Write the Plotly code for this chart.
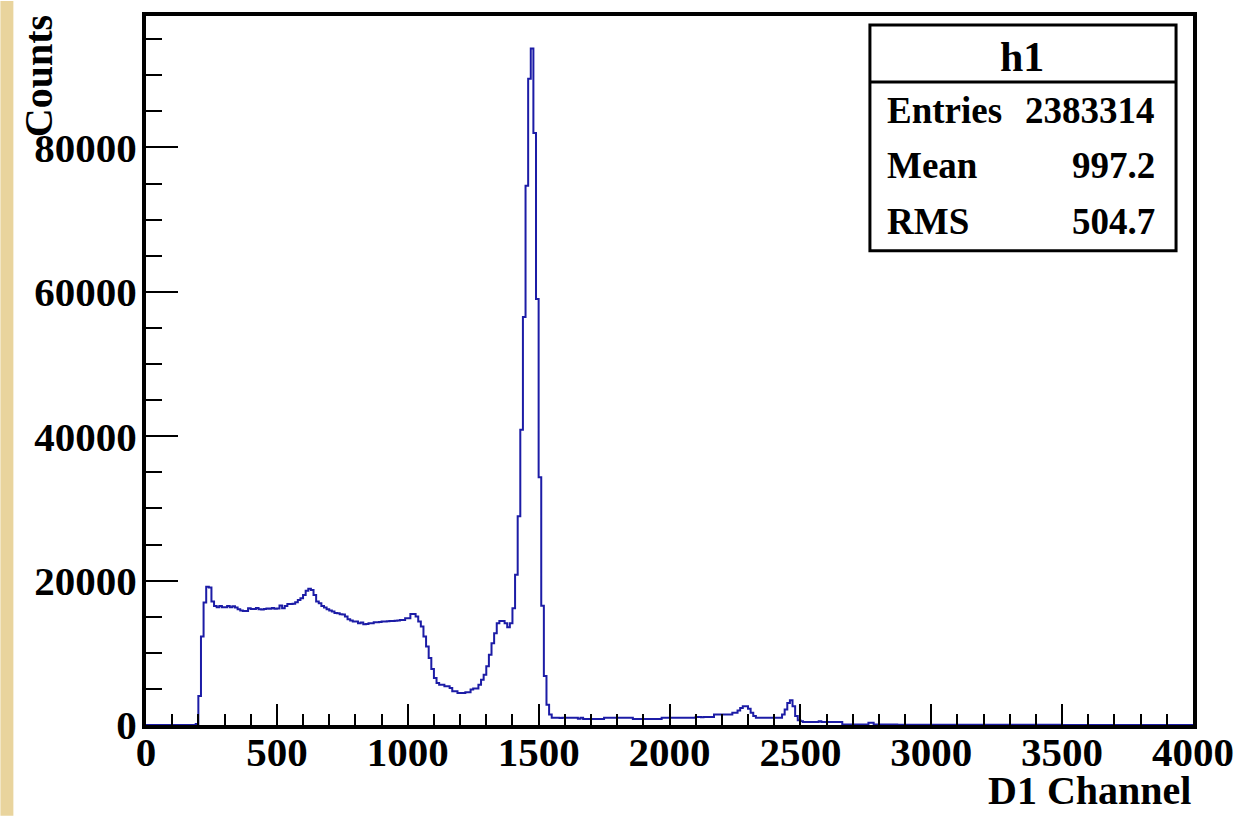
import plotly.graph_objects as go

# ---------------- data (bin width 10 channels, 0..4000) ----------------
bin_width = 10
x_start = 0

counts_0_500 = [
    0, 0, 0, 0, 0, 0, 0, 0, 0, 0,
    0, 0, 0, 0, 0, 0, 0, 0, 0, 150,
    4000, 12260, 16950, 19150, 19060, 17090, 16490, 16300, 16490, 16300,
    16300, 16490, 16300, 16440, 16260, 16030, 15860, 15800, 15800, 16170,
    16080, 16050, 16210, 16030, 16000, 16050, 16120, 16100, 16200, 16100,
]
counts_500_1000 = [
    16150, 16540, 16170, 16490, 16770, 16770, 16800, 17000, 17320, 17550,
    18010, 18600, 18880, 18700, 18010, 17090, 16860, 16490, 16260, 16030,
    15850, 15710, 15500, 15480, 15340, 15300, 15020, 14650, 14470, 14330,
    14330, 14100, 14190, 13960, 13980, 14100, 14100, 14240, 14240, 14260,
    14330, 14330, 14380, 14420, 14420, 14450, 14470, 14560, 14560, 14790,
]
counts_1000_1500 = [
    14790, 15390, 15390, 15020, 14330, 13640, 12260, 10880, 9270, 7750,
    6510, 5820, 5590, 5590, 5360, 5360, 5130, 4670, 4670, 4440,
    4440, 4440, 4540, 4540, 4900, 5040, 5040, 5590, 6280, 6970,
    8120, 9730, 11340, 12720, 14100, 14420, 14420, 14100, 13550, 14100,
    16170, 20800, 28900, 40900, 56500, 74700, 89500, 93700, 82000, 59000,
]
counts_1500_2000 = [
    34300, 16500, 6800, 2800, 1450, 1000, 1000, 1000, 980, 1000,
    1000, 1000, 1000, 1000, 1000, 850, 1000, 820, 820, 820,
    840, 820, 820, 830, 820, 1000, 1000, 1000, 1010, 1000,
    1000, 1000, 1000, 990, 1000, 1000, 820, 820, 830, 820,
    820, 820, 820, 830, 820, 820, 820, 1000, 1000, 1000,
]
counts_2000_2500 = [
    1000, 1000, 1010, 1000, 1000, 990, 1000, 1000, 1010, 1000,
    1100, 1100, 1090, 1100, 1110, 1100, 1100, 1450, 1450, 1440,
    1450, 1460, 1450, 1450, 1680, 1680, 2000, 2370, 2600, 2600,
    2240, 1680, 1230, 1000, 1000, 1000, 990, 1000, 1000, 1000,
    1010, 1000, 1000, 1450, 2150, 3060, 3430, 2600, 1230, 670,
]
counts_2500_3000 = [
    535, 400, 400, 400, 400, 400, 400, 535, 400, 400,
    400, 400, 400, 400, 400, 400, 60, 60, 60, 60,
    60, 60, 60, 60, 60, 60, 300, 300, 60, 60,
    60, 60, 60, 60, 60, 60, 60, 40, 40, 40,
    40, 40, 40, 40, 40, 40, 40, 40, 40, 40,
]
counts_3000_4000 = [
    30, 30, 30, 30, 30, 30, 30, 30, 30, 30,
    30, 30, 30, 30, 30, 30, 30, 30, 30, 30,
    25, 25, 25, 25, 25, 25, 25, 25, 25, 25,
    25, 25, 25, 25, 25, 25, 25, 25, 25, 25,
    20, 20, 20, 20, 20, 20, 20, 20, 20, 20,
    15, 15, 15, 15, 15, 15, 15, 15, 15, 15,
    15, 15, 15, 15, 15, 15, 15, 15, 15, 15,
    10, 10, 10, 10, 10, 10, 10, 10, 10, 10,
    10, 10, 10, 10, 10, 10, 10, 10, 10, 10,
    10, 10, 10, 10, 10, 10, 10, 10, 10, 10,
]

x_tick_values = [0, 500, 1000, 1500, 2000, 2500, 3000, 3500, 4000]
y_tick_values = [0, 20000, 40000, 60000, 80000]

hist_name = "h1"
stats_labels = ["Entries", "Mean", "RMS"]
stats_values = ["2383314", "997.2", "504.7"]
x_title = "D1 Channel"
y_title = "Counts"

# ---------------- build ----------------
counts = (counts_0_500 + counts_500_1000 + counts_1000_1500 + counts_1500_2000
          + counts_2000_2500 + counts_2500_3000 + counts_3000_4000)
edges = [x_start + i * bin_width for i in range(len(counts) + 1)]
step_x = edges
step_y = counts + [counts[-1]]

W, H = 1246, 816
L, R, T, B = 146, 50, 15, 91
pw, ph = W - L - R, H - T - B


def px2x(px):
    return (px - L) / pw


def px2y(py):
    return (H - B - py) / ph


FONT = "Liberation Serif"
line_col = "#1c1ca6"

fig = go.Figure()
fig.add_trace(go.Scatter(
    x=step_x, y=step_y, mode="lines",
    line=dict(color=line_col, width=2, shape="hv"),
    hoverinfo="skip", showlegend=False,
))

axis_font = dict(family=FONT, size=41, color="black", weight="bold")

fig.update_layout(
    width=W, height=H,
    margin=dict(l=L, r=R, t=T, b=B, pad=0),
    paper_bgcolor="white", plot_bgcolor="white",
    showlegend=False,
    xaxis=dict(
        range=[0, 4000], tickmode="array", tickvals=x_tick_values,
        ticks="inside", ticklen=21, tickwidth=2, tickcolor="black",
        ticklabelstandoff=-12,
        showline=True, linewidth=4, linecolor="black", mirror=True,
        showgrid=False, zeroline=False, tickfont=axis_font,
        minor=dict(tickmode="linear", tick0=0, dtick=100, ticks="inside",
                   ticklen=11, tickwidth=2, tickcolor="black", showgrid=False),
    ),
    yaxis=dict(
        range=[0, 98200], tickmode="array", tickvals=y_tick_values,
        tickformat="d",
        ticks="inside", ticklen=32, tickwidth=2, tickcolor="black",
        ticklabelstandoff=-3,
        showline=True, linewidth=4, linecolor="black", mirror=True,
        showgrid=False, zeroline=False, tickfont=axis_font,
        minor=dict(tickmode="linear", tick0=0, dtick=5000, ticks="inside",
                   ticklen=16, tickwidth=2, tickcolor="black", showgrid=False),
    ),
)

shapes = []
# tan strip at the left edge of the page
shapes.append(dict(type="rect", xref="paper", yref="paper",
                   x0=px2x(0), x1=px2x(13), y0=px2y(H), y1=px2y(0),
                   line=dict(width=0), fillcolor="#e9d49d", layer="below"))
# statistics box
shapes.append(dict(type="rect", xref="paper", yref="paper",
                   x0=px2x(872), x1=px2x(1179), y0=px2y(250), y1=px2y(24),
                   line=dict(color="black", width=3), fillcolor="white", layer="above"))
shapes.append(dict(type="line", xref="paper", yref="paper",
                   x0=px2x(872), x1=px2x(1179), y0=px2y(81), y1=px2y(81),
                   line=dict(color="black", width=3), layer="above"))
fig.update_layout(shapes=shapes)

stat_font = dict(family=FONT, size=37, color="black", weight="bold")
ann = []
ann.append(dict(text=hist_name, xref="paper", yref="paper",
                x=px2x(1025), y=px2y(56), xanchor="center", yanchor="middle",
                showarrow=False, font=dict(family=FONT, size=42, color="black", weight="bold")))
row_y = [110, 165, 221]
for lab, val, ry in zip(stats_labels, stats_values, row_y):
    ann.append(dict(text=lab, xref="paper", yref="paper", x=px2x(887), y=px2y(ry),
                    xanchor="left", yanchor="middle", showarrow=False, font=stat_font))
    ann.append(dict(text=val, xref="paper", yref="paper", x=px2x(1160), y=px2y(ry),
                    xanchor="right", yanchor="middle", showarrow=False, font=stat_font))
ann.append(dict(text=x_title, xref="paper", yref="paper", x=px2x(1196), y=px2y(815),
                xanchor="right", yanchor="bottom", showarrow=False,
                font=dict(family=FONT, size=40, color="black", weight="bold")))
ann.append(dict(text=y_title, xref="paper", yref="paper", x=px2x(39), y=px2y(75),
                xanchor="center", yanchor="middle", textangle=-90, showarrow=False,
                font=dict(family=FONT, size=40, color="black", weight="bold")))
fig.update_layout(annotations=ann)

fig.write_html("out.html")
